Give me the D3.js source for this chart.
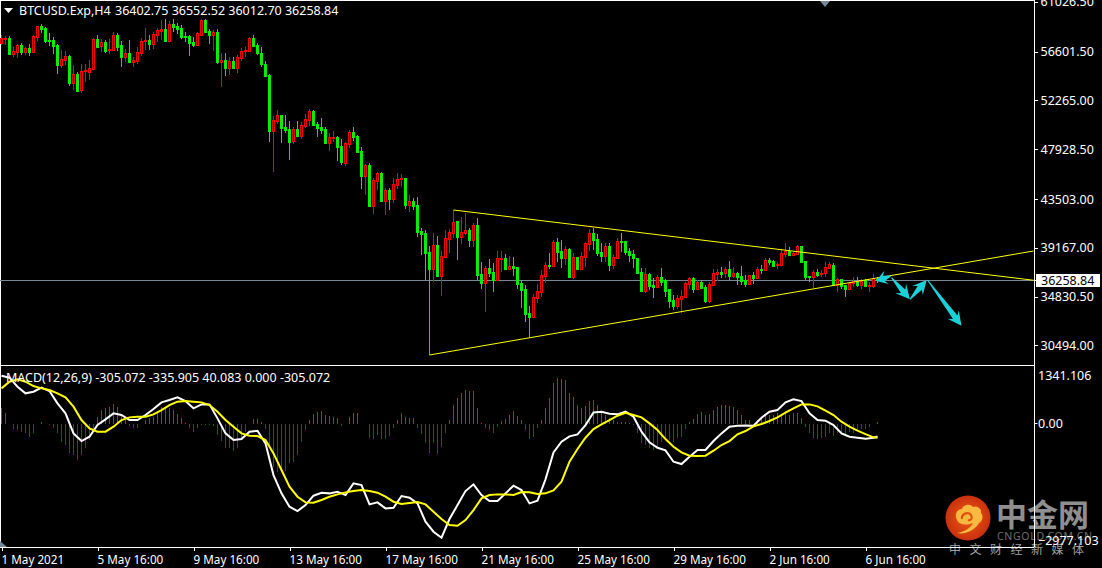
<!DOCTYPE html>
<html><head><meta charset="utf-8">
<script src="https://cdn.jsdelivr.net/npm/d3@7"></script>
<style>html,body{margin:0;padding:0;background:#000;overflow:hidden}svg{display:block}text{font-family:"Noto Sans",sans-serif;font-size:12.5px;fill:#fff}</style>
</head><body><svg id="c" width="1102" height="568"></svg>
<script>
const open=[57236,57619,57737,56321,56498,57088,56498,56823,56498,57826,58770,58622,57531,57531,57118,55318,55761,56144,53696,54522,53106,54817,54699,54964,57619,57029,57354,56646,56646,57973,57059,55997,56380,55613,55702,56380,57413,57531,57177,58003,58357,58504,57472,58947,58770,58593,57885,57885,57354,57088,57973,59301,58327,57973,58239,55613,55761,55053,55702,55053,55967,56528,56587,57678,57118,56351,55407,54433,49507,50392,50864,49802,49655,48563,49655,49065,49950,50481,51218,50097,49802,49655,48445,48888,48947,48150,46675,48357,49389,49035,47708,45525,46469,42870,45082,45761,43312,44256,43489,44728,45200,45318,42929,43253,42929,40628,40451,38769,37294,39389,36675,38356,39949,40480,41513,40126,40421,40716,39860,41129,36822,36055,37353,36970,36291,38149,38238,37294,37530,37412,35996,35465,33341,33046,34727,35258,36674,37618,37559,39654,38857,38208,39005,36527,38297,37235,38326,39477,40421,39890,38769,38385,39300,37618,38268,39742,39742,38828,38592,38208,36970,35317,36822,35849,35642,36527,36261,35465,34521,33990,34639,34816,35937,36438,35465,36085,35642,34432,35878,36822,36999,36881,37235,36645,36881,36645,36320,35966,36734,36468,37235,37206,38061,37943,37618,37618,38592,38857,38533,38621,39300,37973,36645,36527,36999,36822,36881,37382,37618,35848,36350,35848,35494,35996,36232,35848,36291,35790,35790,36402.75];
const high=[57973,57885,57885,56941,57177,57295,56941,57147,57973,58770,58947,58711,58150,57767,57177,56646,56557,56203,55318,54728,55407,55407,55761,57678,57973,57590,57531,57590,58268,58121,57472,56705,57531,56056,56941,57678,58563,57973,58268,58563,59301,59360,59242,59360,59065,58858,58268,57973,57767,58268,59360,59360,58475,58416,58475,56351,56351,56056,56056,56203,56793,56941,57767,57973,57236,56941,55702,54522,50805,51336,50894,50894,50363,49802,50363,50245,50982,51425,51336,50304,50628,49802,49330,49507,49035,48770,48534,49566,49802,49124,48032,46528,46675,45289,45879,45879,44404,44404,45289,45731,45672,45318,43814,43519,43607,40864,40716,39330,40421,40185,38887,40716,40775,42486,41542,41837,42191,40864,41306,41749,37854,37530,38120,37766,38857,38857,38592,38415,38297,37412,36291,35848,33990,35052,35937,37176,37913,38651,39831,39979,39831,39300,39094,38651,38356,38798,39683,40775,40864,40362,39536,39536,39536,38504,39979,40421,39772,39094,38946,38208,37323,37323,36940,36438,36734,37323,36380,35465,34963,34963,35406,36143,36586,36586,36291,36291,35848,36143,37235,37235,37412,37471,37973,37471,37028,37530,36734,36734,37028,37471,37618,38208,38268,38061,37913,39005,39536,39182,38798,39388,39300,37973,36645,37176,37235,37176,37913,37913,37825,36438,36350,35848,36143,36527,36527,36350,36350,36143,36822,36552.52];
const low=[57088,57088,56203,55997,55938,56203,56203,56144,56439,57472,58121,57236,57000,56292,54522,55023,55318,53460,53106,52929,52811,53843,53991,54964,56941,56498,56351,56262,56646,56587,55171,55554,55466,55171,55407,56115,56646,56646,56705,57383,57531,57383,57472,58209,58032,57590,57383,56115,56882,57088,57885,58209,57177,56587,55407,53401,54345,54433,55053,54640,55702,55997,56587,56882,56203,55171,54227,48534,45879,50097,48445,49271,46911,48327,48917,48770,49714,49920,49979,48976,49183,48386,47737,48534,46823,46469,46410,48003,48622,47560,44345,43814,42781,42162,44256,43224,42044,42486,43135,44315,44492,42545,42339,42486,40126,38504,36291,29654,36144,36586,34905,38297,38651,40037,38061,39477,40274,39241,39241,36291,35495,33489,36586,35258,36291,37029,37176,37235,36675,35465,33843,32604,31128,32987,34285,34816,35996,37235,37471,37913,37323,37618,36438,36350,37176,37176,37471,38887,38946,38415,37913,37913,37087,37235,38268,38798,38504,37913,37323,36881,35258,35170,35406,34727,35553,35789,34816,33784,33636,33695,33400,34727,35494,35141,35406,35465,34226,34226,35819,36232,36438,36438,36291,36438,35849,35849,35642,35907,35937,36438,36822,37117,37618,37471,37235,37530,38356,38415,38444,38504,37913,36291,36143,35553,36586,36527,36527,37235,35790,35258,35494,34816,35465,35701,35701,35465,35701,35258,35553,36012.70];
const close=[57737,57678,56262,56557,57059,56439,56793,56439,57885,58770,58504,57442,57472,57029,55318,55820,56115,53696,54522,53047,54787,54876,55053,57619,56941,57354,56587,56705,57973,56941,55997,56351,55584,55731,56498,57413,57501,57177,58062,58416,58475,57442,58947,58711,58504,57767,57826,57236,57088,58121,59301,58268,57973,58239,55554,55761,55053,55672,55053,55997,56528,56646,57678,57029,56351,55378,54345,49507,50451,50864,49773,49566,48534,49625,49035,49979,50510,51218,50009,49773,49566,48416,48947,48947,48091,46734,48386,49389,48947,47649,45495,46469,42840,45141,45731,43283,44256,43460,44787,45200,45318,42929,43253,42840,40539,40362,38681,37265,39389,36645,38386,39979,40510,41453,40126,40510,40687,39831,41129,36734,36055,37323,36940,36291,38208,38208,37265,37500,37382,35966,35406,33312,33046,34757,35288,36734,37618,37530,39654,38739,38208,39005,36527,38297,37264,38415,39536,40421,39831,38710,38415,39300,37618,38297,39742,39683,38798,38504,38208,36881,35317,36822,35760,35642,36527,36143,35317,34462,33960,34669,34875,35996,36438,35494,36085,35613,34432,35937,36881,36999,36851,37235,36645,36881,36586,36202,35937,36704,36468,37235,37206,38061,37884,37530,37677,38651,38857,38474,38651,39300,37913,36527,36586,36999,36704,36940,37412,37677,35848,36380,35760,35494,35996,36232,35848,36202,35790,35848,36439,36258.84];
const macdBars=d3.range(0,220,2).concat(219);
const macdMain=[1145,1098,883,724,763,859,779,485,247,-231,-414,-310,-32,103,247,207,87,87,207,350,509,565,628,541,366,461,461,127,-231,-390,-366,-191,-167,-469,-1225,-1662,-1980,-2084,-1941,-1718,-1646,-1662,-1622,-1702,-1424,-1463,-1925,-1877,-2020,-2004,-1726,-1766,-1901,-2338,-2577,-2720,-2275,-1941,-1607,-1447,-1702,-1845,-1845,-1662,-1479,-1583,-1901,-1837,-1328,-684,-429,-302,-254,-32,270,286,239,223,286,167,-191,-445,-573,-636,-907,-962,-787,-628,-628,-414,-231,-72,-48,-40,-48,143,286,326,509,581,541,247,87,72,-32,-231,-310,-334,-358,-334,-305];
const macdSignal=[843,1002,1058,1002,899,843,803,724,628,406,87,-111,-191,-191,-72,87,151,167,167,223,326,445,525,541,525,509,445,286,87,-72,-231,-286,-294,-390,-708,-1105,-1503,-1742,-1877,-1885,-1821,-1742,-1686,-1638,-1607,-1583,-1607,-1646,-1742,-1861,-1917,-1893,-1869,-1925,-2100,-2275,-2418,-2434,-2298,-2060,-1781,-1702,-1686,-1686,-1702,-1630,-1638,-1678,-1662,-1591,-1384,-907,-604,-334,-127,-16,87,191,262,207,151,8,-151,-366,-549,-684,-763,-771,-763,-644,-509,-414,-254,-175,-64,-8,64,151,262,366,461,461,414,310,207,48,-72,-167,-247,-326,-336];
const macdHist=[366,247,0,-127,-151,-191,-231,-310,-231,-16,32,0,-32,-95,-215,-445,-509,-708,-748,-867,-748,-589,-390,-175,167,326,366,390,461,406,207,87,-56,-111,-111,-16,87,127,167,286,406,406,366,326,231,127,8,-111,-191,-111,-32,-32,-32,-48,-270,-414,-589,-589,-652,-589,-350,-191,-16,111,111,32,-127,-589,-1026,-1161,-1161,-1129,-946,-907,-748,-429,-151,87,223,286,302,207,191,167,127,-56,0,167,247,247,0,-8,-350,-366,-270,-366,-366,-286,-111,87,247,167,143,127,-95,-247,-469,-708,-469,-732,-549,-231,87,445,604,724,803,779,779,382,8,-95,-151,-231,-72,64,111,207,302,191,87,-151,-366,-310,-111,87,366,620,962,1082,1058,1042,740,628,445,382,429,549,565,445,302,207,143,87,48,32,32,8,-32,-231,-469,-509,-589,-628,-549,-429,-390,-390,-445,-350,-310,-127,32,111,223,270,207,223,326,390,445,445,429,406,326,207,87,87,-16,87,127,207,207,207,247,223,302,207,247,247,143,-72,-215,-334,-366,-350,-318,-231,-286,-231,-231,-294,-191,-215,-167,-135,-135,-87,0,40];
const priceTicks=[30494,34830.5,39167,43503,47928.5,52265,56601.5,61026.5];
const timeTicks=d3.range(0,220,24);
const timeLabels=["1 May 2021","5 May 16:00","9 May 16:00","13 May 16:00","17 May 16:00","21 May 16:00","25 May 16:00","29 May 16:00","2 Jun 16:00","6 Jun 16:00"];
const macdTicks=[1341.106,0,-2977.103];
const lastPrice=36258.84;
const trendBars=[[113,258],[107,258]];
const trendPrices=[[42486,36270],[29654,38858]];
const arrowFromBar=[222.3,222.5,227.1,231.5], arrowFromPrice=[36645,36495,34583,36291];
const arrowToBar=[218.6,227.1,231.3,240], arrowToPrice=[36202,34583,36291,32247];

const svg=d3.select("#c");
const x=d3.scaleLinear().domain([0,219]).range([1.5,877.5]);
const y=d3.scaleLinear().domain([61071,30096]).range([0,350]);
const yAxis=d3.scaleLinear().domain([30494,56601.5]).range([345.3,51.7]);
const yM=d3.scaleLinear().domain([0,-2977.103]).range([423.7,548.5]);
const GREEN="#00f000",RED="#ff0000",GOLD="#ffff00";
svg.append("rect").attr("width",1102).attr("height",568).attr("fill","#000");

// watermark
const defs=svg.append("defs");
const g0=defs.append("radialGradient").attr("id","lg");
g0.append("stop").attr("offset","0%").attr("stop-color","#ee5a12");
g0.append("stop").attr("offset","100%").attr("stop-color","#c9300f");
const logo=svg.append("g").attr("transform","translate(968,518)");
logo.append("circle").attr("r",22.5).attr("fill","url(#lg)");
logo.append("path").attr("d","M-11,15 C-4,14 3,10 5,5 C1,7 -8,8 -11,2 C-14,-3 -11,-9 -6,-9 C-5,-13 2,-15 5,-11 C9,-13 14,-9 13,-5 C16,-2 14,4 11,5 C8,11 -2,17 -11,15 Z").attr("fill","#f7b93f");
logo.append("path").attr("d","M-6,1 C-7,-4 0,-7 3,-3 C5,0 3,3 0,2").attr("fill","none").attr("stroke","#e0500f").attr("stroke-width",2.2);
const cjk='"Noto Sans CJK SC",sans-serif';
svg.append("text").attr("x",996).attr("y",526).text("中金网").style("font-family",cjk).style("font-size","31px").style("font-weight","700").style("fill","#8f8f8f");
svg.append("text").attr("x",997).attr("y",539.5).text("CNGOLD.COM.CN").style("font-size","10.5px").style("letter-spacing","0.7px").style("fill","#6e6e6e");
svg.append("text").attr("x",949).attr("y",554).text("中文财经新媒体").style("font-family",cjk).style("font-size","12px").style("letter-spacing","8.5px").style("fill","#a0a0a0");

// frame
const frame=svg.append("g").attr("stroke","#fff").attr("shape-rendering","crispEdges");
[[0,0.5,1034,0.5],[0,365.5,1034,365.5],[0,547.5,1034,547.5],[0.5,0,0.5,547],[1034.5,0,1034.5,547]].forEach(l=>frame.append("line").attr("x1",l[0]).attr("y1",l[1]).attr("x2",l[2]).attr("y2",l[3]));
svg.append("path").attr("d","M0,541 L7,547 L0,547 Z").attr("fill","#778899");
svg.append("path").attr("d","M820,1 L830,1 L825,7 Z").attr("fill","#778899");

// last price line
svg.append("line").attr("x1",0).attr("x2",1034).attr("y1",Math.round(yAxis(lastPrice))+.5).attr("y2",Math.round(yAxis(lastPrice))+.5).attr("stroke","#778899").attr("shape-rendering","crispEdges");

// candles
const idx=d3.range(open.length);
const c=svg.append("g").attr("shape-rendering","crispEdges");
c.selectAll("line").data(idx).join("line")
 .attr("x1",i=>x(i)).attr("x2",i=>x(i)).attr("y1",i=>Math.round(y(high[i]))).attr("y2",i=>Math.round(y(low[i])))
 .attr("stroke",i=>close[i]>=open[i]?RED:GREEN);
c.selectAll("rect").data(idx).join("rect")
 .each(function(i){
   const up=close[i]>=open[i], t=Math.round(y(Math.max(open[i],close[i]))), b=Math.round(y(Math.min(open[i],close[i])));
   const s=d3.select(this);
   if(up) s.attr("x",x(i)-1).attr("width",2).attr("y",t+.5).attr("height",Math.max(1,b-t)).attr("fill","#000").attr("stroke",RED);
   else s.attr("x",x(i)-1.5).attr("width",3).attr("y",t).attr("height",Math.max(1,b-t+1)).attr("fill",GREEN);
 });

// trend lines
trendBars.forEach((b,k)=>svg.append("line").attr("x1",x(b[0])).attr("x2",x(b[1])).attr("y1",y(trendPrices[k][0])).attr("y2",y(trendPrices[k][1])).attr("stroke",GOLD).attr("stroke-width",1));

// arrows
svg.append("g").selectAll("path").data(d3.range(arrowFromBar.length)).join("path")
 .attr("fill","#1cd0da").attr("d",k=>{
   const x0=x(arrowFromBar[k]),y0=y(arrowFromPrice[k]),x1=x(arrowToBar[k]),y1=y(arrowToPrice[k]);
   const L=Math.hypot(x1-x0,y1-y0),ux=(x1-x0)/L,uy=(y1-y0)/L,nx=-uy,ny=ux,H=Math.min(14,L*.72),w=7,n=2.8;
   const P=(a,b)=>[x0+ux*a+nx*b,y0+uy*a+ny*b].join(",");
   return "M"+[P(0,0.5),P(L-H*0.75,n),P(L-H,w),P(L,0),P(L-H,-w),P(L-H*0.75,-n),P(0,-0.5)].join("L")+"Z";
 });

// MACD
const h=svg.append("g").attr("shape-rendering","crispEdges");
h.selectAll("line").data(idx).join("line").attr("x1",i=>x(i)).attr("x2",i=>x(i)).attr("y1",yM(0)).attr("y2",i=>yM(macdHist[i]))
 .attr("stroke",i=>macdHist[i]>=0?"#c41e3a":"#0f640f");
const ml=d3.line().x((d,k)=>x(macdBars[k])).y(d=>yM(d));
svg.append("path").attr("d",ml(macdMain)).attr("fill","none").attr("stroke","#fff").attr("stroke-width",2);
svg.append("path").attr("d",ml(macdSignal)).attr("fill","none").attr("stroke",GOLD).attr("stroke-width",2);

// axes
const fmt2=d3.format(".2f");
const ax=svg.append("g").attr("transform","translate(1034.5,0)").call(d3.axisRight(yAxis).tickValues(priceTicks).tickFormat(fmt2).tickSize(3).tickPadding(3));
ax.select(".domain").remove();
const mTickY=v=>v===1341.106?375.7:v===0?423.7:540;
const ax2=svg.append("g").attr("transform","translate(1034.5,0)");
macdTicks.forEach(v=>ax2.append("text").attr("x",3.5).attr("y",mTickY(v)+4.5).text(v===0?"0.00":d3.format(".3f")(v)));
ax2.append("line").attr("x1",0).attr("x2",3).attr("y1",423.5).attr("y2",423.5).attr("stroke","#fff");
const ax3=svg.append("g").attr("transform","translate(0,547.5)").call(d3.axisBottom(x).tickValues(timeTicks).tickFormat((d,i)=>timeLabels[i]).tickSize(3).tickPadding(5));
ax3.select(".domain").remove();
ax.selectAll("text").style("font-family",'"Noto Sans",sans-serif').style("font-size","12.5px").attr("fill","#fff");
ax3.selectAll("text").style("font-family",'"Noto Sans",sans-serif').style("font-size","11.7px").attr("fill","#fff");
[ax,ax3].forEach(a=>a.selectAll("line").attr("stroke","#fff").attr("shape-rendering","crispEdges"));
ax3.selectAll("text").attr("text-anchor","start").attr("x",-0.5);

// last price tag
svg.append("rect").attr("x",1036).attr("y",274).attr("width",64).attr("height",13).attr("fill","#fff");
svg.append("text").attr("x",1041).attr("y",285).text(d3.format(".2f")(lastPrice)).style("fill","#000");
svg.append("line").attr("x1",1034).attr("x2",1037).attr("y1",280.5).attr("y2",280.5).attr("stroke","#fff");

// headers
svg.append("path").attr("d","M4,8 L13,8 L8.5,13 Z").attr("fill","#fff");
svg.append("text").attr("x",19).attr("y",15).text("BTCUSD.Exp,H4");
svg.append("text").attr("x",115).attr("y",15).text("36402.75 36552.52 36012.70 36258.84");
svg.append("text").attr("x",6).attr("y",382).text("MACD(12,26,9) -305.072 -335.905 40.083 0.000 -305.072");
</script></body></html>
